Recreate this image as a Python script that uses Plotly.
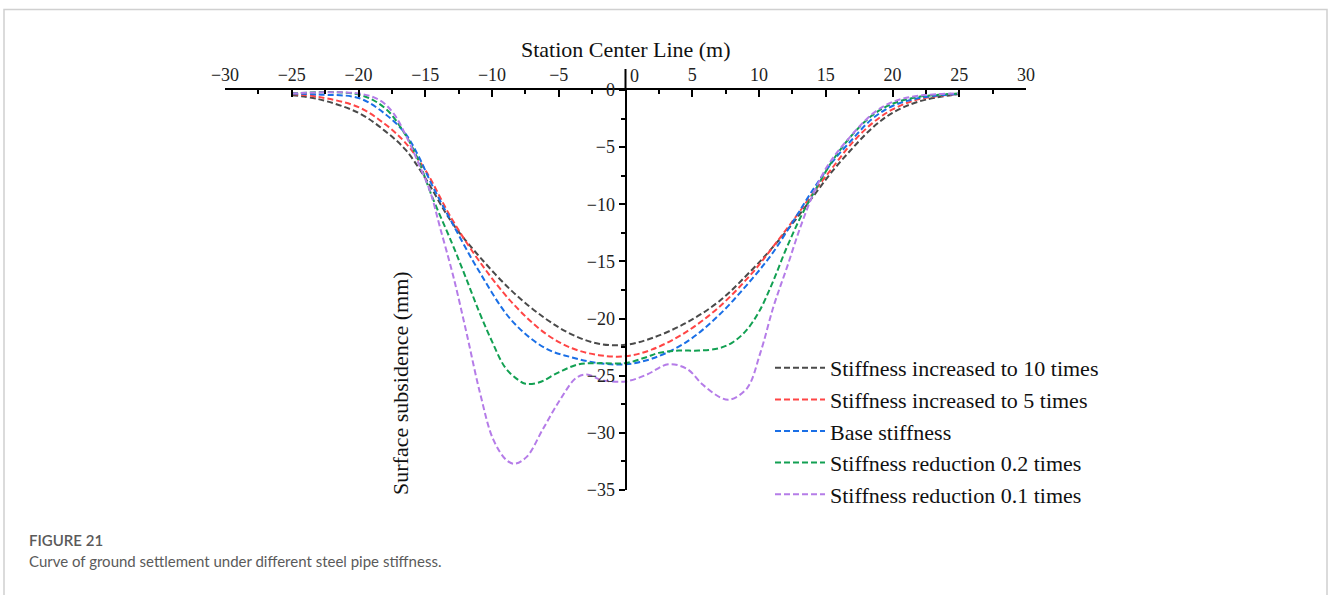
import plotly.graph_objects as go

# ---------------- data ----------------
x_10 = [-25, -23, -20, -18, -16.5, -15, -13, -11, -8.5, -6, -4, -2, 0, 2, 4.5, 7, 9.5, 11, 12.5, 14, 15.5, 17, 18.5, 20, 22, 25]
y_10 = [-0.45, -0.8, -2.0, -3.6, -5.2, -7.7, -11.6, -14.5, -17.6, -20.0, -21.4, -22.2, -22.3, -21.7, -20.4, -18.5, -15.7, -13.8, -11.7, -9.4, -7.1, -5.1, -3.3, -2.0, -1.0, -0.35]

x_5 = [-25, -23, -20, -18, -16.5, -15, -13, -11, -8.5, -6, -4, -2, 0, 2, 4.5, 7, 9.5, 11, 12.5, 14, 15.5, 17, 18.5, 20, 22, 25]
y_5 = [-0.35, -0.6, -1.5, -3.0, -4.6, -7.0, -11.3, -14.9, -18.6, -21.3, -22.6, -23.2, -23.3, -22.7, -21.2, -19.0, -16.0, -13.8, -11.5, -9.1, -6.8, -4.6, -2.9, -1.7, -0.8, -0.35]

x_base = [-25, -23, -20, -18, -16.5, -15.5, -14.5, -13, -11, -8.5, -6, -4, -2, 0, 2, 4.5, 7, 9.5, 11, 12.5, 14, 15.5, 17, 18.5, 20, 22, 25]
y_base = [-0.3, -0.4, -0.7, -2.1, -3.8, -5.8, -8.3, -11.6, -15.8, -20.2, -22.6, -23.4, -23.9, -24.0, -23.5, -22.1, -19.7, -16.5, -14.3, -11.6, -8.8, -6.3, -4.3, -2.5, -1.4, -0.7, -0.35]

x_02 = [-25, -20, -18, -16.5, -15.5, -14.5, -13, -12, -11, -10, -9, -8, -7.5, -6.5, -5, -3.5, -2, 0, 1.5, 2.5, 4, 5.5, 7, 8, 9, 10, 11, 12, 13, 14, 15.5, 17, 18.5, 20, 22, 25]
y_02 = [-0.3, -0.4, -1.6, -3.9, -6.2, -9.3, -13.4, -16.3, -19.3, -22.0, -24.3, -25.4, -25.7, -25.6, -24.7, -24.0, -23.9, -23.9, -23.4, -23.0, -22.8, -22.8, -22.6, -22.1, -21.1, -19.4, -16.9, -14.0, -11.4, -9.2, -6.2, -3.9, -2.2, -1.2, -0.6, -0.3]

x_01 = [-25, -20, -18.4, -17.4, -16.4, -15.4, -14.6, -13.9, -12.9, -11.9, -10.9, -9.9, -8.9, -8.3, -7.4, -6.2, -4.9, -3.7, -2.9, -1.7, 0, 1.6, 3.2, 4.6, 5.8, 7.1, 7.8, 9.1, 10.1, 11.1, 12.1, 13.1, 14.1, 15.1, 16.6, 18.6, 20.1, 22, 25]
y_01 = [-0.3, -0.3, -0.9, -2.0, -4.1, -6.7, -9.0, -12.0, -16.3, -21.3, -26.5, -30.6, -32.4, -32.7, -32.1, -29.7, -27.1, -25.2, -24.9, -25.4, -25.5, -24.9, -24.0, -24.4, -25.8, -26.9, -27.1, -26.1, -23.0, -18.9, -15.5, -12.0, -9.0, -6.7, -4.4, -2.0, -1.0, -0.5, -0.3]

series_names = ["Stiffness increased to 10 times", "Stiffness increased to 5 times", "Base stiffness",
                "Stiffness reduction 0.2 times", "Stiffness reduction 0.1 times"]
series_x = [x_10, x_5, x_base, x_02, x_01]
series_y = [y_10, y_5, y_base, y_02, y_01]
series_colors = ["#4a4a4a", "#ff4545", "#1a6fe6", "#12a052", "#b57ce8"]

x_ticks = [-30, -25, -20, -15, -10, -5, 0, 5, 10, 15, 20, 25, 30]
y_ticks = [-35, -30, -25, -20, -15, -10, -5, 0]

SERIF = "Liberation Serif, Times New Roman, serif"

# ---------------- figure ----------------
fig = go.Figure()
for name, xs, ys, col in zip(series_names, series_x, series_y, series_colors):
    fig.add_trace(go.Scatter(
        x=xs, y=ys, mode="lines", name=name,
        line=dict(color=col, width=2, dash="6px,3px", shape="spline", smoothing=1.0),
    ))

x_tick_text = ["" if v == 0 else ("\u2212" + str(-v) if v < 0 else str(v)) for v in x_ticks]

fig.update_xaxes(
    range=[-30, 30], side="top", showline=True, linecolor="black", linewidth=2,
    ticks="inside", ticklen=7, tickwidth=2, tickcolor="black",
    tickvals=x_ticks, ticktext=x_tick_text,
    tickfont=dict(family=SERIF, size=18, color="#222"),
    minor=dict(ticks="inside", ticklen=4, tickwidth=2, tickcolor="black", dtick=2.5, tick0=0),
    showgrid=False, zeroline=False, automargin=False,
)
fig.update_yaxes(
    range=[-35, 0], anchor="free", position=0.5, side="left",
    showline=True, linecolor="black", linewidth=2,
    ticks="outside", ticklen=6, tickwidth=2, tickcolor="black",
    tickvals=y_ticks,
    tickfont=dict(family=SERIF, size=18, color="#222"),
    minor=dict(ticks="outside", ticklen=4, tickwidth=2, tickcolor="black", dtick=2.5, tick0=0),
    showgrid=False, zeroline=False, automargin=False,
)

annotations = [
    dict(text="Station Center Line (m)", xref="paper", yref="paper", x=0.5, y=1.1,
         xanchor="center", yanchor="middle", showarrow=False,
         font=dict(family=SERIF, size=22, color="#111")),
    dict(text="Surface subsidence (mm)", xref="paper", yref="paper", x=(400 - 225) / 801, y=(490 - 383) / 400,
         xanchor="center", yanchor="middle", textangle=-90, showarrow=False,
         font=dict(family=SERIF, size=22, color="#111")),
    dict(text="0", xref="x", yref="paper", x=0, y=1.0, xanchor="left", yanchor="bottom",
         xshift=2, yshift=2, showarrow=False, font=dict(family=SERIF, size=18, color="#222")),
    dict(text="FIGURE 21", xref="paper", yref="paper", x=(27 - 225) / 801, y=(490 - 540) / 400,
         xanchor="left", yanchor="middle", showarrow=False,
         font=dict(family="Lato, Noto Sans, sans-serif", size=15, color="#5a5a5a", weight=600)),
    dict(text="Curve of ground settlement under different steel pipe stiffness.", xref="paper", yref="paper",
         x=(27 - 225) / 801, y=(490 - 561) / 400, xanchor="left", yanchor="middle", showarrow=False,
         font=dict(family="Lato, Noto Sans, sans-serif", size=15, color="#5a5a5a")),
]

shapes = [
    dict(type="rect", xref="paper", yref="paper",
         x0=(4 - 225) / 801, x1=(1327 - 225) / 801, y0=(490 - 620) / 400, y1=(490 - 9.5) / 400,
         line=dict(color="#d0d0d0", width=1.5), layer="below"),
    dict(type="line", xref="x", yref="paper", x0=0, x1=0, y0=1.0, y1=(490 - 69) / 400,
         line=dict(color="black", width=2)),
]

fig.update_layout(
    width=1328, height=595,
    margin=dict(l=225, r=302, t=90, b=105, autoexpand=False),
    paper_bgcolor="white", plot_bgcolor="white",
    showlegend=True,
    legend=dict(x=(770 - 225) / 801, y=(490 - 347) / 400, xanchor="left", yanchor="top",
                bgcolor="rgba(0,0,0,0)", font=dict(family=SERIF, size=22, color="#111"),
                itemwidth=50, tracegroupgap=0),
    annotations=annotations, shapes=shapes,
)

fig.write_html("out.html")
